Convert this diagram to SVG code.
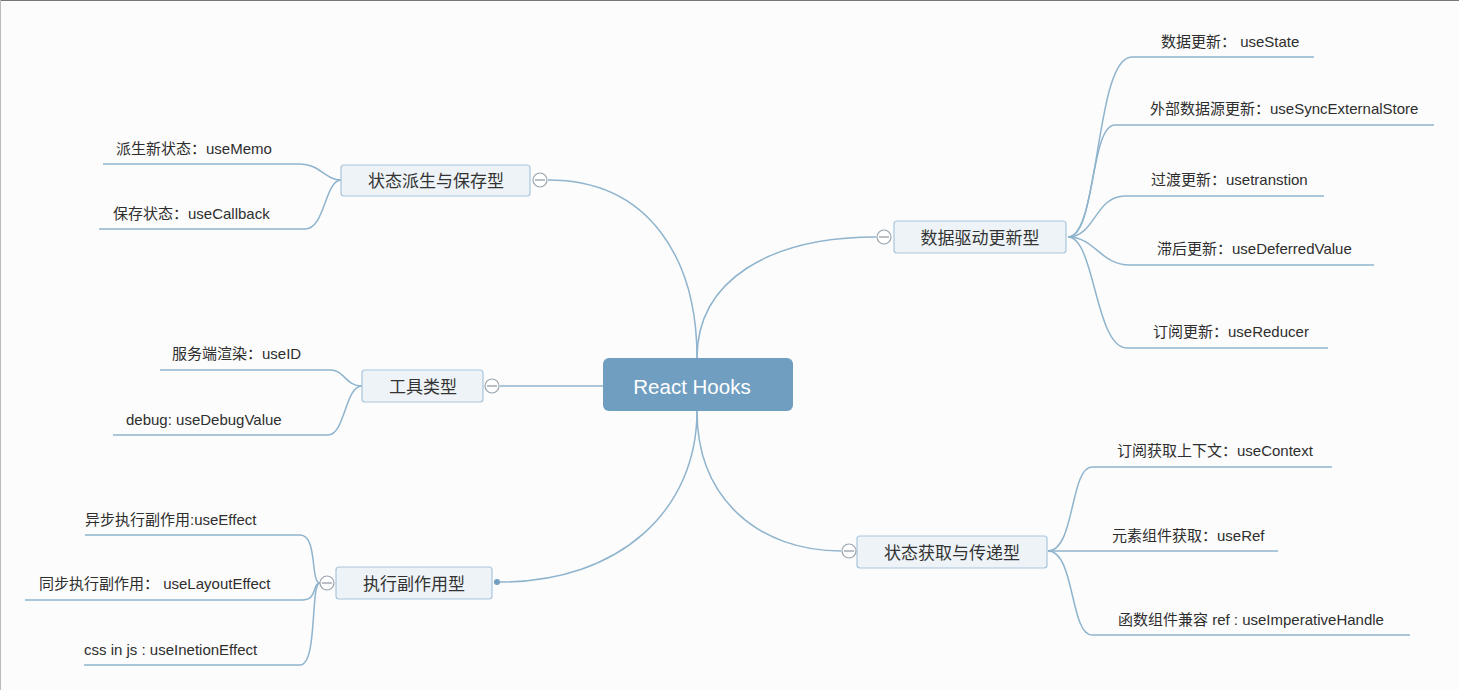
<svg xmlns="http://www.w3.org/2000/svg" width="1459" height="690" viewBox="0 0 1459 690">
<style>
.bg{fill:#fcfcfc}
.ln{fill:none;stroke:#8fb4cd;stroke-width:1.5}
.br rect{fill:#eef3f8;stroke:#a9c5dc;stroke-width:1.2}
.br text{font-family:"Liberation Sans","Noto Sans CJK SC",sans-serif;font-size:17px;fill:#333;text-anchor:middle;dominant-baseline:central}
.lf{font-family:"Liberation Sans","Noto Sans CJK SC",sans-serif;font-size:15px;fill:#2e2e2e}
.tg circle{fill:#fff;stroke:#9aa4ad;stroke-width:1.2}
.tg line{stroke:#8a949c;stroke-width:1.2}
</style>
<rect class="bg" x="0" y="0" width="1459" height="690"/>
<line x1="0" y1="0.5" x2="1459" y2="0.5" stroke="#777" stroke-width="1"/>
<line x1="0.5" y1="0" x2="0.5" y2="690" stroke="#bbb" stroke-width="1"/>

<g id="connectors">
  <path class="ln" d="M548 180 C650 180 697 260 697 358"/>
  <path class="ln" d="M876 237 C770 237 697 280 697 358"/>
  <path class="ln" d="M841 551 C760 551 697 500 697 411"/>
  <path class="ln" d="M500 582 C620 582 697 510 697 411"/>
  <path class="ln" d="M500 386 L603 386"/>
  <path class="ln" d="M341 180 C325 180 320 164 300 164 L103 164"/>
  <path class="ln" d="M341 180 C325 180 325 229 305 229 L99 229"/>
  <path class="ln" d="M362 386 C345 386 345 370 330 370 L160 370"/>
  <path class="ln" d="M362 386 C345 386 345 435 328 435 L113 435"/>
  <path class="ln" d="M320 583 C310 583 318 535 300 535 L85 535"/>
  <path class="ln" d="M320 583 C312 583 318 600 302 600 L25 600"/>
  <path class="ln" d="M320 583 C310 583 318 665 300 665 L84 665"/>
  <path class="ln" d="M1068 237 C1100 237 1095 57 1132 57 L1314 57"/>
  <path class="ln" d="M1068 237 C1095 237 1090 125 1115 125 L1434 125"/>
  <path class="ln" d="M1068 237 C1095 237 1095 196 1125 196 L1324 196"/>
  <path class="ln" d="M1068 237 C1095 237 1100 265 1130 265 L1374 265"/>
  <path class="ln" d="M1068 237 C1095 237 1095 348 1127 348 L1328 348"/>
  <path class="ln" d="M1048 551 C1075 551 1070 467 1092 467 L1332 467"/>
  <path class="ln" d="M1048 551 L1278 551"/>
  <path class="ln" d="M1048 551 C1075 551 1070 635 1092 635 L1410 635"/>
</g>

<g id="root">
  <rect x="603" y="358" width="190" height="53" rx="6" fill="#6f9ec0"/>
  <text x="692" y="386" font-family="Liberation Sans, sans-serif" font-size="20.5" fill="#fff" text-anchor="middle" dominant-baseline="central">React Hooks</text>
</g>

<g id="n-derive" class="br">
  <rect x="341" y="165" width="189" height="31" rx="3"/>
  <text x="436" y="181">状态派生与保存型</text>
</g>
<g id="n-data" class="br">
  <rect x="894" y="221" width="172" height="32" rx="3"/>
  <text x="980" y="238">数据驱动更新型</text>
</g>
<g id="n-tool" class="br">
  <rect x="362" y="370" width="121" height="32" rx="3"/>
  <text x="423" y="387">工具类型</text>
</g>
<g id="n-effect" class="br">
  <rect x="336" y="567" width="156" height="32" rx="3"/>
  <text x="414" y="584">执行副作用型</text>
</g>
<g id="n-context" class="br">
  <rect x="857" y="536" width="190" height="32" rx="3"/>
  <text x="952" y="553">状态获取与传递型</text>
</g>

<g id="toggles" class="tg">
  <circle cx="540" cy="180" r="7"/><line x1="535" y1="180" x2="545" y2="180"/>
  <circle cx="884" cy="237" r="7"/><line x1="879" y1="237" x2="889" y2="237"/>
  <circle cx="492" cy="386" r="7"/><line x1="487" y1="386" x2="497" y2="386"/>
  <circle cx="327" cy="583" r="7"/><line x1="322" y1="583" x2="332" y2="583"/>
  <circle cx="849" cy="551" r="7"/><line x1="844" y1="551" x2="854" y2="551"/>
</g>
<circle cx="497" cy="582" r="3" fill="#6f9ec0"/>

<g id="leaves">
  <text class="lf" x="116" y="154">派生新状态：useMemo</text>
  <text class="lf" x="113" y="219">保存状态：useCallback</text>
  <text class="lf" x="172" y="359">服务端渲染：useID</text>
  <text class="lf" x="126" y="425">debug: useDebugValue</text>
  <text class="lf" x="85" y="525">异步执行副作用:useEffect</text>
  <text class="lf" x="39" y="589">同步执行副作用： useLayoutEffect</text>
  <text class="lf" x="84" y="655">css in js : useInetionEffect</text>
  <text class="lf" x="1161" y="47">数据更新： useState</text>
  <text class="lf" x="1150" y="114">外部数据源更新：useSyncExternalStore</text>
  <text class="lf" x="1151" y="185">过渡更新：usetranstion</text>
  <text class="lf" x="1157" y="254">滞后更新：useDeferredValue</text>
  <text class="lf" x="1153" y="337">订阅更新：useReducer</text>
  <text class="lf" x="1117" y="456">订阅获取上下文：useContext</text>
  <text class="lf" x="1112" y="541">元素组件获取：useRef</text>
  <text class="lf" x="1118" y="625">函数组件兼容 ref : useImperativeHandle</text>
</g>
</svg>
